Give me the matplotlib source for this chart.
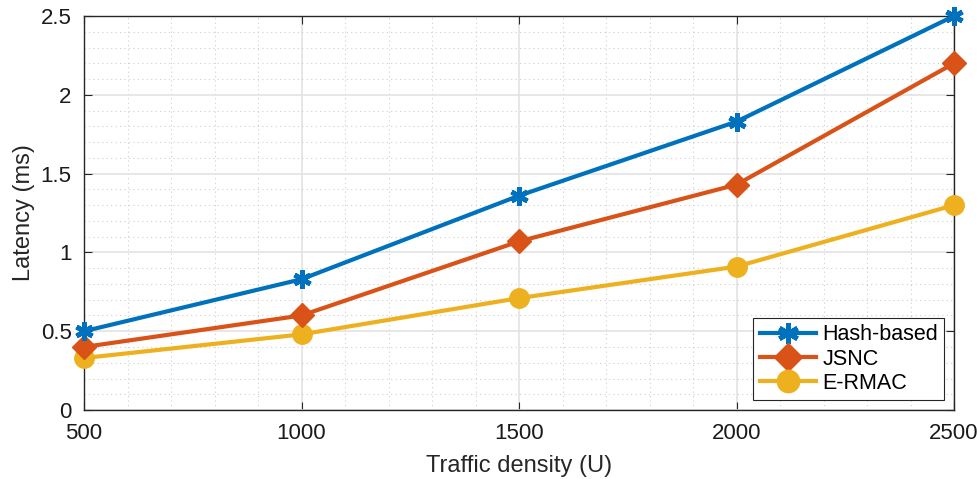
import matplotlib
matplotlib.use("Agg")
import matplotlib.pyplot as plt
from matplotlib.ticker import MultipleLocator, FormatStrFormatter

matplotlib.rcParams["font.family"] = ["Liberation Sans", "DejaVu Sans"]

# traffic density vs latency for the three schemes
density = [500, 1000, 1500, 2000, 2500]
hash_based = [0.50, 0.83, 1.36, 1.83, 2.50]
jsnc = [0.40, 0.60, 1.07, 1.43, 2.20]
ermac = [0.33, 0.48, 0.71, 0.91, 1.30]

fig = plt.figure(figsize=(9.77, 4.79), dpi=100)
ax = fig.add_axes([0.086, 0.144, 0.8905, 0.8226])

ax.plot(density, hash_based, color="#0072BD", lw=3, marker=(6, 2, 0), ms=13, mew=3.5,
        label="Hash-based", zorder=5, clip_on=False)
ax.plot(density, jsnc, color="#D95319", lw=3, marker="D", ms=12, label="JSNC", zorder=4,
        clip_on=False)
ax.plot(density, ermac, color="#EDB120", lw=3, marker="o", ms=14, label="E-RMAC", zorder=3,
        clip_on=False)

ax.set_xlim(500, 2500)
ax.set_ylim(0, 2.5)
ax.xaxis.set_major_locator(MultipleLocator(500))
ax.xaxis.set_minor_locator(MultipleLocator(100))
ax.yaxis.set_major_locator(MultipleLocator(0.5))
ax.yaxis.set_minor_locator(MultipleLocator(0.1))
ax.yaxis.set_major_formatter(FormatStrFormatter("%g"))

ax.grid(which="major", color="#e3e3e3", lw=1.2)
ax.grid(which="minor", color="#cfcfcf", lw=0.8, linestyle=(0, (1, 3)))
ax.set_axisbelow(True)

ax.tick_params(which="both", direction="in", top=True, right=True, labelsize=16,
               color="#262626", labelcolor="#1a1a1a")
ax.tick_params(which="major", length=6)
ax.tick_params(axis="x", which="major", pad=9)
ax.tick_params(axis="y", which="major", pad=9)
ax.tick_params(which="minor", length=0)
for s in ax.spines.values():
    s.set_color("#262626")
    s.set_linewidth(1)

ax.set_xlabel("Traffic density (U)", fontsize=17, color="#262626", labelpad=8)
ax.set_ylabel("Latency (ms)", fontsize=17, color="#262626", labelpad=4)

leg = ax.legend(loc="lower right", fontsize=15.5, fancybox=False, edgecolor="#262626",
                framealpha=1, borderpad=0.3, labelspacing=0.15, handlelength=2.6,
                handletextpad=0.3, borderaxespad=0.45, markerscale=1.15)
leg.get_frame().set_linewidth(0.8)

fig.savefig("out.png", dpi=100)
